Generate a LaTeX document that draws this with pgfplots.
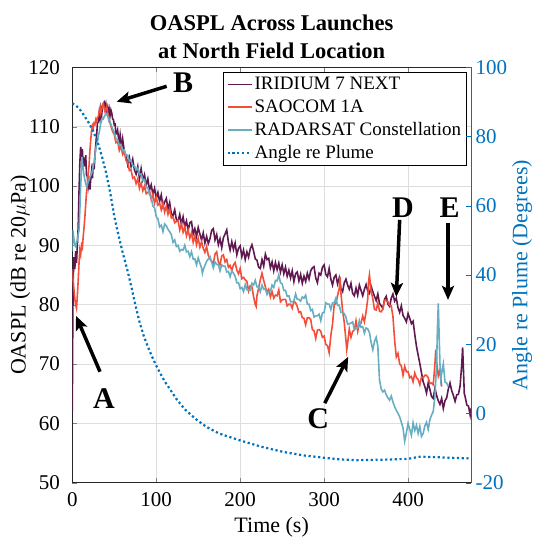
\documentclass[border=0pt]{standalone}
\usepackage{pgfplots}
\pgfplotsset{compat=1.18}
\usepackage{fontspec}
\setmainfont{Liberation Serif}
\usetikzlibrary{arrows.meta}

\definecolor{iridium}{RGB}{96,24,80}
\definecolor{saocom}{RGB}{242,78,58}
\definecolor{radarsat}{RGB}{104,174,194}
\definecolor{mblue}{RGB}{0,114,189}
\newcommand{\tickfont}{\fontsize{21}{21}\selectfont}

\begin{document}
\begin{tikzpicture}
\pgfplotsset{
  every axis/.append style={
    scale only axis,
    width=398.7pt, height=415.4pt,
    xmin=0, xmax=475,
    tick align=inside,
    major tick length=5pt,
    /pgf/number format/assume math mode=true,
    label style={font=\fontsize{22}{24}\selectfont},
  },
  angle/.style={mblue, line width=2.2pt, dash pattern=on 2.2pt off 2.6pt},
}
\begin{axis}[
    ymin=50, ymax=120,
    xtick={0,100,...,400},
    ytick={50,60,...,120},
    ytick pos=left,
    xtick pos=both,
    axis line style={black!85},
    grid=major,
    major grid style={black!13, line width=0.6pt},
    xticklabel style={font=\tickfont, yshift=-6pt},
    yticklabel style={font=\tickfont, xshift=-9pt},
    xlabel={Time (s)},
    xlabel style={at={(rel axis cs:0.5,0)}, anchor=center, yshift=-45pt},
    ylabel={OASPL (dB re 20$\mu$Pa)},
    ylabel style={at={(rel axis cs:0,0.5)}, anchor=center, yshift=52pt},
    title={OASPL Across Launches\\at North Field Location},
    title style={font=\bfseries\fontsize{22.5}{28}\selectfont, align=center,
      at={(rel axis cs:0.5,1)}, anchor=center, yshift=24pt},
    legend cell align=left,
    legend style={at={(0.988,0.988)}, anchor=north east, draw=black,
      font=\fontsize{19}{20}\selectfont, row sep=4.5pt, inner xsep=3pt, inner ysep=3pt},
    legend image code/.code={\draw[#1] (0pt,0pt) -- (24pt,0pt);},
]
\addplot[iridium, line width=1.6pt] table {
0 62
0.5 75
1 84
2 88
3 86
4 89
5 87
6 90
7 93
8 99
9 104
10 106.6
11 104.6
12 106.2
13 103.2
14 104.8
15 103.3
16 105.2
17 101.8
18 101.6
19 99.8
20 100.7
21 99.4
22 101.2
23 102.6
24 101.3
25 103.8
26 102.8
27 105.2
28 107
29 108.6
30 110.6
31 110.8
32 112.2
33 111.3
34 113
35 112
36 113.4
37 113.9
38 114.1
39 113.1
40 113.8
41 112.6
42 113.2
43 111.8
44 112.9
45 111.9
46 112.8
47 112.3
48 111.3
49 111.2
50 110.3
51 110.4
52 108.8
53 108.8
54 109.4
55 108.1
56 107.4
57 108.6
58 107.3
59 106.8
60 107.9
62 105.8
64 105.1
66 103.6
68 104.8
70 103.3
72 104.5
74 102.7
76 102
78 103.3
80 101.2
82 102.9
84 101
86 101.9
88 100.1
90 101.2
92 99.3
94 100.2
96 98.6
98 99.6
100 97.9
102 98.9
104 97.4
106 98.5
108 96.5
110 97.3
112 97.9
114 96.1
116 97.2
118 95.3
120 95
122 96
124 94.3
126 94.1
128 95.2
130 93.5
132 94.8
134 93.1
136 94.1
138 92.5
140 93.8
142 94
144 91.9
146 92.8
148 91.5
150 93
152 91.9
154 90.9
156 92.1
158 90.4
160 91.5
162 90.3
164 91.1
166 92.5
168 92.8
170 90.9
172 91.8
174 90.1
176 91.1
178 89.6
180 91.3
182 91.9
184 92.6
186 90.5
188 89.2
190 90.6
192 89.3
194 90.4
196 88.4
198 89.5
200 89.9
202 88.1
204 89.2
206 87.6
208 88.9
210 88
212 89.4
214 90.1
216 89
218 87.7
220 87.5
222 86.3
224 86.1
226 87.6
228 86.5
230 88.5
232 87.6
234 87.8
236 86.2
238 87.2
240 85.7
242 87.1
244 85.9
246 87
248 85.5
250 86.7
252 85.2
254 86.3
256 84.8
258 85.8
260 84.5
262 85.7
264 83.9
266 85.2
268 85.5
270 84
272 85.1
274 83.6
276 84.8
278 83.9
280 85.3
282 84.3
284 85.7
286 86.2
288 86.4
290 84.5
292 83.7
294 85.3
296 85
298 86.3
300 86.7
302 85.1
304 84.7
306 86.1
308 84.3
310 83.3
312 84.6
314 85
316 83.5
318 84.5
320 82.7
322 82.2
324 83.7
326 84.3
328 83.3
330 82.6
332 83.6
334 81.9
336 81.5
338 82.8
340 81.6
342 83.3
344 82.4
346 81.5
348 82.6
350 83.4
352 82.3
354 81.9
356 83.1
358 82.2
360 81.4
362 80.7
364 81.8
366 80.2
368 79.8
370 79.4
372 80.9
374 81.4
376 80.1
378 79.7
380 81.1
382 81.8
384 80.6
386 81.1
388 79.5
390 78.7
392 79.8
394 78.2
396 77.7
398 77.1
400 78.5
402 77.7
404 76.8
406 77.2
408 75
410 73
412 71.5
414 70.1
416 68.5
418 67
420 66.2
422 65.1
424 66.8
426 65.7
428 64.5
430 64.2
432 65.9
434 64.7
436 63.8
438 63.2
440 64.2
442 62.5
444 63.8
446 64.3
448 65.8
450 66.8
452 65.5
454 64.7
456 63.7
458 64.8
460 64.9
462 66.3
464 70
465 72.8
466 69
467 65
468 64.5
470 63.1
472 62.9
474 61.4
475 62.5
};
\addlegendentry{IRIDIUM 7 NEXT}
\addplot[saocom, line width=1.6pt] table {
0 86
0.5 85
1 84.2
2 82.5
3 81
4 80
5 79.4
6 81.5
7 84
8 87
9 89.2
10 88.5
11 90
12 89.6
13 91.5
14 93
15 94.8
16 97
17 99
18 100.5
19 102.1
20 103.5
21 106
22 107.8
23 109.4
24 110.2
25 109.8
26 110.6
27 110.4
28 111.2
29 110.8
30 111.6
31 111.7
32 112.6
33 113.2
34 112.3
35 112.9
36 113.6
37 113.9
38 113.1
39 112.5
40 113
41 113.4
42 112.4
43 111.9
44 111.2
45 110.6
46 110.1
47 109.6
48 109.2
50 108.7
52 107.3
54 107.5
56 106
58 106.8
60 105.3
62 105.7
64 104.3
66 104.1
68 102.6
70 102.7
72 101.3
74 101.5
76 100.4
78 101.2
80 99.6
82 100.5
84 99.2
86 100
88 98.7
90 98.9
92 99.2
94 97.7
96 98.6
98 97.1
100 98.1
102 96.8
104 97.1
106 96
108 97.1
110 95.6
112 96.6
114 95.2
116 96.1
118 94.6
120 94.8
122 93.8
124 94
126 94.2
128 92.6
130 93.6
132 92.2
134 93.1
136 91.6
138 92.6
140 91.2
142 92.1
144 90.5
146 91.6
148 90.1
150 91.2
152 89.7
154 90.6
156 89.5
158 88.8
160 89.8
162 88.3
164 87.7
166 87.3
168 86.9
170 88.5
172 88.9
174 87.2
176 86.7
178 88.2
180 88.4
182 87.2
184 87.6
186 86.3
188 86.6
190 85.7
192 86.7
194 87.1
196 85.8
198 85.2
200 86.1
202 84.4
204 84.6
206 84.2
208 83.9
210 82.3
212 83.2
214 83
216 81.3
218 80
219 79.7
220 81.5
222 82.8
224 84.2
226 85.3
228 84.1
230 83
232 82.1
234 82.6
236 81.3
238 82.2
240 81.1
242 81.6
244 81.5
246 82.5
248 80.5
250 80.8
252 80.9
254 80.9
256 79.8
258 80.1
260 80.1
262 79.4
264 80.6
266 80.3
268 79.7
270 78.7
272 78.8
274 77.8
276 77.7
278 76.6
280 77.8
282 77.8
284 77.5
286 75.8
288 75.6
290 74.3
292 75.7
294 75.8
296 75.5
298 74.5
300 74.7
302 73.3
304 73.1
306 71.9
308 74.8
310 76.7
312 80
314 80.2
316 81.5
318 82.7
319 84.7
320 82
322 79
324 77
326 74
327 72.4
328 73.5
330 75.9
332 74.5
334 75.5
336 75.7
338 77.3
340 75.5
342 76.7
344 76.9
346 78.1
348 77.1
350 78.8
352 81
353 84
354 85
355 83.6
356 82.3
358 81
360 79.2
362 79.1
364 80.3
366 78.9
368 78.8
370 79.3
372 80.7
374 80.7
376 80.5
378 79.9
380 79.8
382 78
384 74
386 71.2
388 71.8
390 70
392 69.7
394 68.1
396 69.6
398 68.7
400 68.7
402 67.7
404 67.9
406 67
408 68.5
410 67.7
412 67.4
414 66.5
416 67.8
418 67.7
420 68.1
422 68.1
424 67.7
426 66.7
428 66.8
430 66.5
432 70
433 72.4
434 70.5
436 68
438 69
440 66.2
};
\addlegendentry{SAOCOM 1A}
\addplot[radarsat, line width=1.6pt] table {
0 89
0.5 92.6
1 92.2
2 91
3 90
4 89.8
5 90.4
6 91
7 91.8
8 92.6
9 96
10 100
11 103
11.5 104.9
12 104
13 103
14 101.8
15 101
16 100.4
17 99.9
18 100.2
19 100.8
20 101
21 101.5
22 101.8
23 102.1
24 102.6
25 103.5
26 104
27 105
28 106.2
29 107
30 107.5
31 108.4
32 109
33 109.8
34 110.6
35 111.1
36 111.4
37 111.3
38 111.7
39 111.9
40 112.1
41 112.2
42 111.8
43 111.5
44 111
45 110.8
46 110.4
47 110
48 109.6
50 109.1
52 107.9
54 107.8
56 106.9
58 106.9
60 106
62 106.1
64 105.1
66 105.2
68 104.2
70 104.3
72 103.4
74 103.4
76 102.7
78 103
80 101.9
82 102
84 101
86 101.1
88 99.8
90 99.7
92 98.5
94 98.2
96 96.6
98 96.3
100 94.8
102 94.5
104 93.1
106 93.4
108 92.3
110 93.6
112 93.3
114 92.7
116 92.3
118 91.8
120 90.5
122 90.9
124 89.8
126 90
128 89
130 89.3
132 89.2
134 90
136 88.9
138 89
140 88.1
142 88.9
144 87.7
146 87.7
148 86.7
150 87.9
152 87
154 86.2
155 85.3
156 85.9
158 86.6
160 87.3
162 87.7
164 88.1
166 87.2
168 86.2
170 87.2
172 86.8
174 86.7
176 85.7
178 86.7
180 86.5
182 86.5
184 85.5
186 85.6
188 84.7
190 85.7
192 85.3
194 84.8
196 83.7
198 83.7
200 82.7
202 82.9
204 82.2
206 83.4
208 82.5
210 82.5
212 82.4
214 83.6
216 83.3
218 84.1
220 83
222 83
224 82.2
226 83.3
228 82.6
230 82.7
232 81.7
234 82.2
236 82.2
238 83.3
240 82.9
242 84.1
244 84
246 85
248 83.7
250 83.5
252 82.4
254 82.4
256 81.4
258 81.5
260 80.5
262 80.5
264 80.6
266 81.8
268 80.9
270 80.9
272 80.6
274 81.3
276 81.1
278 81.6
280 80.1
282 80.1
284 79
286 79.2
288 77.9
290 78.1
292 78.1
294 78.4
296 77.3
298 78.6
300 78.7
302 80.3
304 80.1
306 80.1
308 79.2
310 80.3
312 80.3
314 81.1
316 79.9
318 79.9
320 78.7
322 78.7
324 78.5
326 77.9
328 76.7
330 76.8
332 76.9
334 77.1
336 75.8
338 76
340 76.1
342 77.3
344 76.2
346 76.3
348 75.2
350 76.1
352 75.9
354 75.3
356 73.6
358 72.4
360 73.8
362 74.5
364 73
365 70
366 67.3
368 65.8
370 65.3
372 65.6
374 64.8
376 64.3
378 63.9
380 64.6
382 63.6
384 62.8
386 62.2
388 61.7
390 61.1
392 60.2
394 59.2
396 57
398 58.4
400 60
402 59
404 58
406 60.1
408 58.8
410 59.7
412 58.3
414 59.5
416 57.8
418 58.3
420 59.6
422 60.2
424 59
426 60.6
428 61.4
430 62
432 64.5
434 70
435 76
436 80.2
437 75
438 70
439 67.5
440 68.4
442 70
444 67
446 66.8
448 66.2
};
\addlegendentry{RADARSAT Constellation}
\addlegendimage{angle}
\addlegendentry{Angle re Plume}
\coordinate (SW) at (rel axis cs:0,0);
\coordinate (NE) at (rel axis cs:1,1);
\coordinate (Ahead) at (axis cs:4.4,78.1);
\coordinate (Atail) at (axis cs:33,68.7);
\coordinate (Alab) at (axis cs:37.7,64.1);
\coordinate (Bhead) at (axis cs:52.9,114.2);
\coordinate (Btail) at (axis cs:112.4,116.8);
\coordinate (Blab) at (axis cs:132,117.4);
\coordinate (Chead) at (axis cs:328.6,71.2);
\coordinate (Ctail) at (axis cs:300.8,63.4);
\coordinate (Clab) at (axis cs:292.9,60.7);
\coordinate (Dhead) at (axis cs:386,81.3);
\coordinate (Dtail) at (axis cs:390,94.3);
\coordinate (Dlab) at (axis cs:393.8,96.3);
\coordinate (Ehead) at (axis cs:447.6,80.8);
\coordinate (Etail) at (axis cs:447.6,93.7);
\coordinate (Elab) at (axis cs:449.6,96.4);
\end{axis}
\begin{axis}[
    ymin=-20, ymax=100,
    ytick={-20,0,...,100},
    axis x line=none,
    axis y line*=right,
    y axis line style={mblue, line width=0.8pt},
    ytick style={mblue},
    yticklabel style={mblue, font=\tickfont, xshift=1pt},
    ylabel={Angle re Plume (Degrees)},
    ylabel style={mblue, at={(rel axis cs:1,0.5)}, anchor=center, yshift=-51pt},
]
\addplot[angle] table {
0 89.6
5 88.8
10 87.5
15 85.7
20 83.8
25 81.5
30 78.5
35 74.5
40 69.8
45 64
50 57
55 51.5
60 46.5
65 42
70 37
75 31.5
80 26.5
85 22.5
90 19.3
95 16.4
100 13.8
105 11.5
110 9.3
115 7.5
124 4.2
134 1.2
148 -1.8
160 -3.9
175 -5.8
200 -7.8
225 -9.6
251 -11.1
275 -12.1
300 -12.8
320 -13.3
339 -13.5
360 -13.4
380 -13.3
400 -13.1
414 -12.5
430 -12.6
450 -12.8
475 -13
};
\end{axis}
\begin{scope}[line width=3.5pt, -{Stealth[length=14pt,width=12pt,inset=3pt]}]
\draw (Atail) -- (Ahead);
\draw (Btail) -- (Bhead);
\draw (Ctail) -- (Chead);
\draw (Dtail) -- (Dhead);
\draw (Etail) -- (Ehead);
\end{scope}
\begin{scope}[font=\bfseries\fontsize{30}{30}\selectfont, inner sep=0pt]
\node at (Alab) {A};
\node at (Blab) {B};
\node at (Clab) {C};
\node at (Dlab) {D};
\node at (Elab) {E};
\end{scope}
\pgfresetboundingbox
\path ([shift={(-72.3pt,-57.3pt)}]SW) rectangle ([shift={(67pt,67.3pt)}]NE);
\end{tikzpicture}
\end{document}
